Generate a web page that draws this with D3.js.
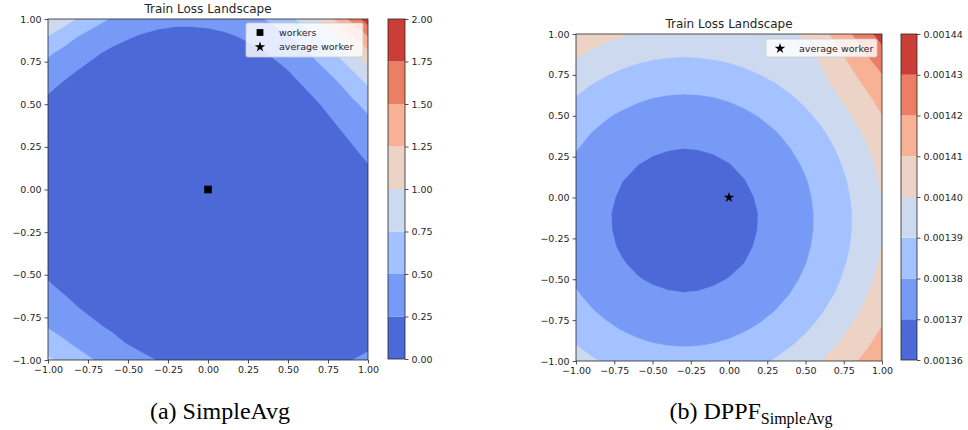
<!DOCTYPE html>
<html><head><meta charset="utf-8">
<script src="https://cdn.jsdelivr.net/npm/d3@7"></script>
<style>body{margin:0;background:#fff}svg{display:block;font-family:"DejaVu Sans",sans-serif}</style>
</head><body><svg id="c" width="968" height="430"></svg>
<script>
// ---------- data ----------
const axisTicks=[-1,-0.75,-0.5,-0.25,0,0.25,0.5,0.75,1];
const gridX=[-1,-0.9,-0.8,-0.7,-0.6,-0.5,-0.4,-0.3,-0.2,-0.1,0,0.1,0.2,0.3,0.4,0.5,0.6,0.7,0.8,0.9,1];
const gridY=[1,0.9,0.8,0.7,0.6,0.5,0.4,0.3,0.2,0.1,0,-0.1,-0.2,-0.3,-0.4,-0.5,-0.6,-0.7,-0.8,-0.9,-1];
const levelsA=[0,0.25,0.5,0.75,1,1.25,1.5,1.75,2];
const levelsB=[0.00136,0.00137,0.00138,0.00139,0.00140,0.00141,0.00142,0.00143,0.00144];
const workersA=[[0,0]];
const averageA=[[0,0]];
const averageB=[[0,0]];
// (a) SimpleAvg train loss, rows follow gridY, columns follow gridX
const lossA=[
[1.06,0.87,0.71,0.58,0.48,0.41,0.35,0.32,0.30,0.30,0.31,0.34,0.38,0.45,0.55,0.68,0.84,1.04,1.28,1.57,1.89],
[0.75,0.61,0.49,0.40,0.32,0.27,0.23,0.20,0.19,0.19,0.20,0.22,0.26,0.31,0.39,0.49,0.62,0.79,0.99,1.23,1.50],
[0.54,0.43,0.34,0.27,0.21,0.17,0.15,0.13,0.12,0.12,0.13,0.14,0.17,0.21,0.27,0.35,0.46,0.60,0.76,0.96,1.19],
[0.39,0.30,0.24,0.18,0.14,0.11,0.09,0.08,0.07,0.07,0.08,0.09,0.11,0.14,0.19,0.25,0.34,0.45,0.58,0.75,0.93],
[0.28,0.22,0.17,0.13,0.09,0.07,0.06,0.05,0.04,0.04,0.05,0.06,0.07,0.10,0.13,0.18,0.25,0.33,0.44,0.58,0.73],
[0.21,0.16,0.12,0.09,0.06,0.05,0.04,0.03,0.03,0.03,0.03,0.03,0.05,0.06,0.09,0.13,0.18,0.25,0.34,0.45,0.57],
[0.17,0.12,0.09,0.06,0.04,0.03,0.02,0.02,0.02,0.01,0.02,0.02,0.03,0.04,0.06,0.09,0.13,0.19,0.26,0.35,0.45],
[0.14,0.10,0.07,0.05,0.03,0.02,0.02,0.01,0.01,0.01,0.01,0.01,0.02,0.03,0.04,0.06,0.10,0.14,0.20,0.27,0.35],
[0.12,0.09,0.06,0.04,0.03,0.02,0.01,0.01,0.01,0.01,0.01,0.01,0.01,0.02,0.03,0.05,0.07,0.11,0.15,0.21,0.28],
[0.11,0.08,0.06,0.04,0.02,0.02,0.01,0.01,0.00,0.00,0.00,0.01,0.01,0.01,0.02,0.04,0.06,0.08,0.12,0.17,0.22],
[0.11,0.08,0.06,0.04,0.02,0.01,0.01,0.01,0.00,0.00,0.00,0.00,0.01,0.01,0.02,0.03,0.04,0.07,0.10,0.14,0.18],
[0.11,0.09,0.06,0.04,0.03,0.02,0.01,0.01,0.00,0.00,0.00,0.00,0.01,0.01,0.01,0.02,0.04,0.06,0.08,0.12,0.16],
[0.13,0.10,0.07,0.05,0.03,0.02,0.01,0.01,0.01,0.00,0.00,0.00,0.01,0.01,0.01,0.02,0.03,0.05,0.07,0.10,0.14],
[0.15,0.12,0.09,0.06,0.04,0.03,0.02,0.01,0.01,0.01,0.01,0.01,0.01,0.01,0.01,0.02,0.03,0.05,0.07,0.10,0.12],
[0.18,0.14,0.11,0.08,0.06,0.04,0.03,0.02,0.01,0.01,0.01,0.01,0.01,0.01,0.01,0.02,0.03,0.04,0.06,0.09,0.12],
[0.23,0.18,0.14,0.11,0.08,0.06,0.04,0.03,0.02,0.02,0.02,0.01,0.02,0.02,0.02,0.03,0.04,0.06,0.08,0.10,0.12],
[0.29,0.24,0.19,0.15,0.11,0.08,0.06,0.05,0.04,0.03,0.03,0.02,0.03,0.03,0.03,0.04,0.05,0.07,0.09,0.11,0.13],
[0.37,0.31,0.25,0.20,0.16,0.12,0.09,0.07,0.06,0.05,0.04,0.04,0.04,0.04,0.05,0.06,0.07,0.08,0.10,0.13,0.15],
[0.48,0.41,0.34,0.27,0.22,0.17,0.14,0.11,0.09,0.07,0.07,0.06,0.06,0.06,0.07,0.08,0.09,0.11,0.13,0.15,0.18],
[0.62,0.53,0.44,0.37,0.30,0.24,0.20,0.16,0.13,0.12,0.10,0.10,0.09,0.10,0.10,0.11,0.13,0.15,0.17,0.20,0.22],
[0.79,0.69,0.58,0.49,0.41,0.34,0.28,0.24,0.20,0.17,0.16,0.15,0.14,0.14,0.15,0.16,0.18,0.20,0.23,0.25,0.28]];
// (b) DPPF_SimpleAvg train loss, in units of 1e-3
const lossUnitB=1e-3;
const lossB=[
[1.4079,1.4051,1.4028,1.4009,1.3994,1.3983,1.3976,1.3972,1.3971,1.3970,1.3966,1.3959,1.3958,1.3964,1.3983,1.4017,1.4066,1.4127,1.4197,1.4271,1.4338],
[1.4025,1.3997,1.3974,1.3955,1.3940,1.3929,1.3923,1.3920,1.3922,1.3928,1.3935,1.3939,1.3938,1.3930,1.3942,1.3975,1.4022,1.4080,1.4145,1.4215,1.4280],
[1.3975,1.3948,1.3925,1.3906,1.3891,1.3880,1.3874,1.3871,1.3873,1.3879,1.3889,1.3903,1.3921,1.3935,1.3942,1.3954,1.3996,1.4046,1.4103,1.4163,1.4222],
[1.3931,1.3904,1.3881,1.3862,1.3847,1.3836,1.3829,1.3827,1.3829,1.3834,1.3844,1.3858,1.3877,1.3899,1.3926,1.3948,1.3975,1.4017,1.4066,1.4118,1.4173],
[1.3892,1.3865,1.3842,1.3823,1.3808,1.3797,1.3790,1.3788,1.3789,1.3795,1.3805,1.3819,1.3838,1.3860,1.3886,1.3917,1.3950,1.3987,1.4031,1.4080,1.4132],
[1.3858,1.3831,1.3807,1.3788,1.3773,1.3763,1.3756,1.3754,1.3755,1.3761,1.3771,1.3785,1.3803,1.3826,1.3852,1.3883,1.3918,1.3956,1.3999,1.4046,1.4098],
[1.3829,1.3801,1.3778,1.3759,1.3744,1.3733,1.3727,1.3724,1.3726,1.3732,1.3742,1.3756,1.3774,1.3796,1.3823,1.3854,1.3888,1.3927,1.3970,1.4017,1.4069],
[1.3804,1.3777,1.3754,1.3735,1.3720,1.3709,1.3703,1.3700,1.3702,1.3707,1.3717,1.3731,1.3750,1.3772,1.3799,1.3829,1.3864,1.3903,1.3946,1.3993,1.4044],
[1.3785,1.3758,1.3735,1.3715,1.3701,1.3690,1.3683,1.3681,1.3682,1.3688,1.3698,1.3712,1.3730,1.3753,1.3779,1.3810,1.3845,1.3884,1.3927,1.3974,1.4025],
[1.3771,1.3743,1.3720,1.3701,1.3686,1.3675,1.3669,1.3666,1.3668,1.3674,1.3684,1.3698,1.3716,1.3738,1.3765,1.3795,1.3830,1.3869,1.3912,1.3959,1.4011],
[1.3761,1.3734,1.3711,1.3692,1.3677,1.3666,1.3659,1.3657,1.3659,1.3664,1.3674,1.3688,1.3707,1.3729,1.3755,1.3786,1.3821,1.3860,1.3903,1.3950,1.4001],
[1.3757,1.3729,1.3706,1.3687,1.3672,1.3662,1.3655,1.3652,1.3654,1.3660,1.3670,1.3684,1.3702,1.3724,1.3751,1.3782,1.3816,1.3855,1.3898,1.3946,1.3997],
[1.3757,1.3730,1.3707,1.3688,1.3673,1.3662,1.3655,1.3653,1.3655,1.3660,1.3670,1.3684,1.3703,1.3725,1.3751,1.3782,1.3817,1.3856,1.3899,1.3946,1.3997],
[1.3763,1.3735,1.3712,1.3693,1.3678,1.3667,1.3661,1.3658,1.3660,1.3666,1.3676,1.3690,1.3708,1.3730,1.3757,1.3788,1.3822,1.3861,1.3904,1.3951,1.4003],
[1.3773,1.3746,1.3723,1.3704,1.3689,1.3678,1.3671,1.3669,1.3670,1.3676,1.3686,1.3700,1.3718,1.3741,1.3767,1.3798,1.3833,1.3872,1.3915,1.3962,1.4013],
[1.3788,1.3761,1.3738,1.3719,1.3704,1.3693,1.3687,1.3684,1.3686,1.3692,1.3702,1.3716,1.3734,1.3756,1.3783,1.3813,1.3848,1.3887,1.3930,1.3977,1.4029],
[1.3809,1.3782,1.3758,1.3739,1.3724,1.3714,1.3707,1.3704,1.3706,1.3712,1.3722,1.3736,1.3754,1.3777,1.3803,1.3834,1.3868,1.3907,1.3950,1.3998,1.4049],
[1.3834,1.3807,1.3784,1.3765,1.3750,1.3739,1.3732,1.3730,1.3731,1.3737,1.3747,1.3761,1.3779,1.3802,1.3828,1.3859,1.3894,1.3933,1.3976,1.4023,1.4074],
[1.3864,1.3837,1.3814,1.3795,1.3780,1.3769,1.3763,1.3760,1.3762,1.3768,1.3777,1.3792,1.3810,1.3832,1.3859,1.3889,1.3924,1.3963,1.4006,1.4053,1.4104],
[1.3900,1.3872,1.3849,1.3830,1.3815,1.3804,1.3798,1.3795,1.3797,1.3803,1.3813,1.3827,1.3845,1.3867,1.3894,1.3924,1.3959,1.3998,1.4041,1.4088,1.4140],
[1.3940,1.3912,1.3889,1.3870,1.3855,1.3845,1.3838,1.3835,1.3837,1.3843,1.3853,1.3867,1.3885,1.3907,1.3934,1.3965,1.3999,1.4038,1.4081,1.4129,1.4180]];

// ---------- drawing ----------
const bandColors=["#4d68d7","#779af7","#a3c2ff","#ccd9ee","#ecd3c5","#f7b194","#ec7f63","#cb3e38"];
const svg=d3.select("#c");
const ink="#262626";
function panel(o){
  const xs=d3.scaleLinear([-1,1],[o.x0,o.x1]);
  const ys=d3.scaleLinear([-1,1],[o.y1,o.y0]);
  const id="clip"+o.key;
  svg.append("clipPath").attr("id",id).append("rect").attr("x",o.x0).attr("y",o.y0).attr("width",o.x1-o.x0).attr("height",o.y1-o.y0);
  const g=svg.append("g").attr("clip-path",`url(#${id})`);
  const nx=gridX.length, ny=gridY.length;
  const ix=d3.scaleLinear([0,nx-1],[gridX[0],gridX[nx-1]]);
  const iy=d3.scaleLinear([0,ny-1],[gridY[0],gridY[ny-1]]);
  const proj=d3.geoTransform({point(x,y){this.stream.point(xs(ix(x-0.5)),ys(iy(y-0.5)));}});
  const path=d3.geoPath(proj);
  const values=o.grid.flat().map(v=>v*o.unit);
  const cs=d3.contours().size([nx,ny]).thresholds(o.levels.slice(1,-1))(values);
  g.append("rect").attr("x",o.x0).attr("y",o.y0).attr("width",o.x1-o.x0).attr("height",o.y1-o.y0).attr("fill",bandColors[0]);
  cs.forEach((c,k)=>g.append("path").attr("d",path(c)).attr("fill",bandColors[k+1]).attr("stroke",bandColors[k+1]).attr("stroke-width",0.3));
  const fmt=d3.format(".2f");
  const ax=svg.append("g").attr("transform",`translate(0,${o.y1})`).call(d3.axisBottom(xs).tickValues(axisTicks).tickFormat(fmt).tickSizeOuter(0).tickSize(3.5).tickPadding(3));
  const ay=svg.append("g").attr("transform",`translate(${o.x0},0)`).call(d3.axisLeft(ys).tickValues(axisTicks).tickFormat(fmt).tickSizeOuter(0).tickSize(3.5).tickPadding(3));
  [ax,ay].forEach(a=>{a.select(".domain").remove();a.selectAll("line").attr("stroke",ink).attr("stroke-width",0.8);a.selectAll("text").attr("fill",ink).attr("font-size",9.5).attr("font-family","DejaVu Sans");});
  svg.append("rect").attr("x",o.x0).attr("y",o.y0).attr("width",o.x1-o.x0).attr("height",o.y1-o.y0).attr("fill","none").attr("stroke",ink).attr("stroke-width",0.8);
  const cy=d3.scaleLinear([o.levels[0],o.levels[o.levels.length-1]],[o.cb.y1,o.cb.y0]);
  const cb=svg.append("g");
  o.levels.slice(0,-1).forEach((l,k)=>cb.append("rect").attr("x",o.cb.x0).attr("width",o.cb.x1-o.cb.x0).attr("y",cy(o.levels[k+1])).attr("height",cy(l)-cy(o.levels[k+1])).attr("fill",bandColors[k]));
  cb.append("rect").attr("x",o.cb.x0).attr("y",o.cb.y0).attr("width",o.cb.x1-o.cb.x0).attr("height",o.cb.y1-o.cb.y0).attr("fill","none").attr("stroke",ink).attr("stroke-width",0.8);
  const ac=svg.append("g").attr("transform",`translate(${o.cb.x1},0)`).call(d3.axisRight(cy).tickValues(o.levels).tickFormat(d3.format(o.cbFmt)).tickSizeOuter(0).tickSize(3.5).tickPadding(3));
  ac.select(".domain").remove();ac.selectAll("line").attr("stroke",ink).attr("stroke-width",0.8);ac.selectAll("text").attr("fill",ink).attr("font-size",9.5).attr("font-family","DejaVu Sans");
  svg.append("text").attr("x",(o.x0+o.x1)/2).attr("y",o.y0-6).attr("text-anchor","middle").attr("font-size",12).attr("fill",ink).text("Train Loss Landscape");
  return {xs,ys};
}
const star=d3.symbol().type(d3.symbolStar).size(34);
const starSmall=d3.symbol().type(d3.symbolStar).size(20);
const A=panel({key:"a",grid:lossA,unit:1,levels:levelsA,x0:48,x1:368,y0:19,y1:360,cb:{x0:388,x1:405,y0:19,y1:359},cbFmt:".2f"});
averageA.forEach(([x,y])=>svg.append("path").attr("d",starSmall()).attr("transform",`translate(${A.xs(x)},${A.ys(y)})`).attr("fill","#000"));
workersA.forEach(([x,y])=>svg.append("rect").attr("x",A.xs(x)-3.8).attr("y",A.ys(y)-3.8).attr("width",7.6).attr("height",7.6).attr("fill","#000"));
const B=panel({key:"b",grid:lossB,unit:lossUnitB,levels:levelsB,x0:576,x1:882,y0:34,y1:361,cb:{x0:901,x1:917,y0:34,y1:360},cbFmt:".5f"});
averageB.forEach(([x,y])=>svg.append("path").attr("d",star()).attr("transform",`translate(${B.xs(x)},${B.ys(y)})`).attr("fill","#000"));
function legend(x,y,w,h,items){
  const g=svg.append("g");
  g.append("rect").attr("x",x).attr("y",y).attr("width",w).attr("height",h).attr("rx",2).attr("fill","#fff").attr("fill-opacity",0.8).attr("stroke","#ccc").attr("stroke-width",0.8);
  items.forEach((it,k)=>{const cy=y+9.5+k*14.5;
    if(it.m==="s")g.append("rect").attr("x",x+14-3.4).attr("y",cy-3.4).attr("width",6.8).attr("height",6.8).attr("fill","#000");
    else g.append("path").attr("d",star()).attr("transform",`translate(${x+14},${cy})`).attr("fill","#000");
    g.append("text").attr("x",x+33).attr("y",cy+3.4).attr("font-size",9.5).attr("fill",ink).text(it.t);});
}
legend(246,23,117,34,[{m:"s",t:"workers"},{m:"*",t:"average worker"}]);
legend(766,39,111,18,[{m:"*",t:"average worker"}]);
svg.append("text").attr("x",220).attr("y",419).attr("text-anchor","middle").style("font-family","'Liberation Serif',serif").attr("font-size",24).attr("fill","#000").text("(a) SimpleAvg");
const cap=svg.append("text").attr("x",751).attr("y",419).attr("text-anchor","middle").style("font-family","'Liberation Serif',serif").attr("font-size",24).attr("fill","#000");
cap.append("tspan").text("(b) DPPF");
cap.append("tspan").attr("font-size",16).attr("dy",5).text("SimpleAvg");
</script></body></html>
